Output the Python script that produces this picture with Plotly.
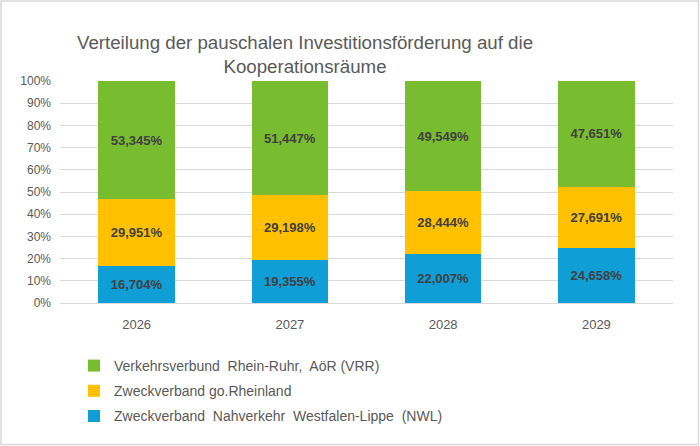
import plotly.graph_objects as go

years = ["2026", "2027", "2028", "2029"]
nwl = [16.704, 19.355, 22.007, 24.658]
gorh = [29.951, 29.198, 28.444, 27.691]
vrr = [53.345, 51.447, 49.549, 47.651]
names = [
    "Zweckverband  Nahverkehr  Westfalen-Lippe  (NWL)",
    "Zweckverband go.Rheinland",
    "Verkehrsverbund  Rhein-Ruhr,  AöR (VRR)",
]
colors = ["#0F9ED5", "#FFC000", "#78BC2F"]
y_ticks = list(range(0, 101, 10))

def fmt(v):
    return f"{v:.3f}".replace(".", ",") + "%"

FONT = "Liberation Sans, Arial, sans-serif"
fig = go.Figure()
for i, (name, vals) in enumerate(zip(names, [nwl, gorh, vrr])):
    fig.add_trace(go.Bar(
        x=years, y=vals, name=name, legendrank=1000 - i, legendgroup=f"g{i}",
        marker=dict(color=colors[i], line=dict(width=0)),
        text=[fmt(v) for v in vals], textposition="inside",
        insidetextanchor="middle",
        textfont=dict(family=FONT, size=13, color="#404040", weight="bold"),
        hoverinfo="skip",
    ))

L, R, T, B = 60, 27, 81, 143
PW, PH = 700 - L - R, 446 - T - B
fig.update_layout(
    width=700, height=446,
    margin=dict(l=L, r=R, t=T, b=B, pad=0),
    barmode="stack", bargap=0.5,
    paper_bgcolor="white", plot_bgcolor="white",
    font=dict(family=FONT, color="#595959"),
    showlegend=True,
    uniformtext=dict(mode="show", minsize=13),
    title=dict(
        text="Verteilung der pauschalen Investitionsförderung auf die<br>Kooperationsräume",
        x=305 / 700, xanchor="center", xref="container",
        y=1 - 49 / 446, yanchor="middle", yref="container",
        font=dict(family=FONT, size=18.7, color="#595959"),
    ),
    legend=dict(
        traceorder="grouped", tracegroupgap=4,
        x=(74 - L) / PW, xanchor="left",
        y=-(350 - 303) / PH, yanchor="top",
        font=dict(family=FONT, size=14, color="#595959"),
        itemwidth=30, bgcolor="rgba(0,0,0,0)",
    ),
    xaxis=dict(
        showgrid=False, showline=True, linecolor="#d9d9d9", linewidth=1,
        ticks="", tickfont=dict(size=13, color="#595959"),
        ticklabelstandoff=9,
    ),
    yaxis=dict(
        range=[0, 100], tickvals=y_ticks, ticktext=[f"{v}%" for v in y_ticks],
        showgrid=True, gridcolor="#d9d9d9", gridwidth=1, zeroline=False,
        tickfont=dict(size=12, color="#595959"), ticks="", ticklen=0,
        ticklabelstandoff=8,
    ),
    shapes=[dict(
        type="rect", xref="paper", yref="paper",
        x0=-(L - 1) / PW, x1=1 + (R - 1.5) / PW,
        y0=-(B - 1.5) / PH, y1=1 + (T - 1) / PH,
        line=dict(color="#d9d9d9", width=1.5), layer="below",
    )],
)
fig.write_html("out.html")
